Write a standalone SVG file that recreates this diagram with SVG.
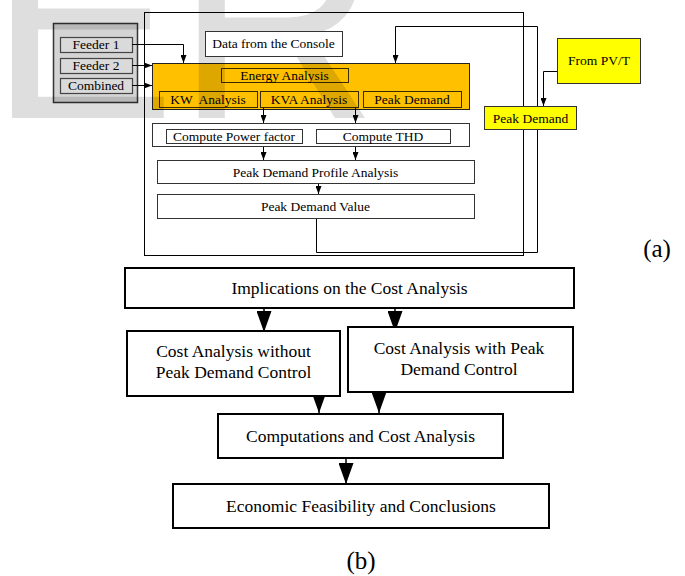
<svg xmlns="http://www.w3.org/2000/svg" width="685" height="576" viewBox="0 0 685 576">
<style>
text{font-family:"Liberation Serif","Times New Roman",serif;fill:#000;text-anchor:middle}
.s{font-size:13.5px}
.b{font-size:17.5px}
.lbl{font-size:25px}
.wb{fill:#fff;stroke:#333;stroke-width:1}
.gb{fill:#dadada;stroke:#444;stroke-width:1.2}
.ob{fill:#ffc000;stroke:#3a2a00;stroke-width:1}
.yb{fill:#ffff00;stroke:#333;stroke-width:1}
.bb{fill:#fff;stroke:#000;stroke-width:2}
.ln{fill:none;stroke:#000;stroke-width:1}
.lb{fill:none;stroke:#000;stroke-width:1.5}
.wm{font-family:"Liberation Sans",Arial,sans-serif;font-size:280px;fill:#000;fill-opacity:0.13;text-anchor:start}
</style>
<defs>
<marker id="sa" markerUnits="userSpaceOnUse" markerWidth="8" markerHeight="6" refX="8" refY="3" orient="auto"><path d="M0,0 L8,3 L0,6 z" fill="#000"/></marker>
<marker id="ba" markerUnits="userSpaceOnUse" markerWidth="21" markerHeight="15" refX="21" refY="7.5" orient="auto"><path d="M0,0 L21,7.5 L0,15 z" fill="#000"/></marker>
</defs>
<rect width="685" height="576" fill="#fff"/>
<g id="outer-box"><rect x="144.5" y="12.5" width="379" height="243" fill="none" stroke="#000" stroke-width="1"/></g>
<g id="feeders">
<rect x="53.5" y="23.5" width="84" height="79" fill="#d4d4d4" stroke="#333" stroke-width="1.5"/>
<g id="feeder1"><rect class="gb" x="60.5" y="37.5" width="72" height="15"/><text class="s" x="96" y="49">Feeder 1</text></g>
<g id="feeder2"><rect class="gb" x="60.5" y="58.5" width="72" height="15"/><text class="s" x="96" y="70">Feeder 2</text></g>
<g id="combined"><rect class="gb" x="60.5" y="78.5" width="72" height="15"/><text class="s" x="96" y="90">Combined</text></g>
</g>
<g id="energy-block">
<rect x="152.5" y="63.5" width="317" height="46" fill="#ffc000" stroke="#222" stroke-width="1"/>
<g id="energy-analysis"><rect class="ob" x="221.5" y="68.5" width="127" height="14"/><text class="s" x="284.5" y="80">Energy Analysis</text></g>
<g id="kw-analysis"><rect class="ob" x="159.5" y="91.5" width="98" height="16"/><text class="s" x="208" y="104" xml:space="preserve">KW  Analysis</text></g>
<g id="kva-analysis"><rect class="ob" x="260.5" y="91.5" width="98" height="16"/><text class="s" x="309" y="104">KVA Analysis</text></g>
<g id="peak-demand-a"><rect class="ob" x="363.5" y="91.5" width="98" height="16"/><text class="s" x="412" y="104">Peak Demand</text></g>
</g>
<g id="watermark"><text class="wm" x="-11" y="118">ER</text></g>
<g id="data-console"><rect class="wb" x="205.5" y="31.5" width="137" height="25"/><text class="s" x="273.5" y="48">Data from the Console</text></g>
<g id="compute-row">
<rect class="wb" x="152.5" y="123.5" width="317" height="23"/>
<g id="compute-pf"><rect class="wb" x="166.5" y="129.5" width="136" height="14"/><text class="s" x="234" y="141">Compute Power factor</text></g>
<g id="compute-thd"><rect class="wb" x="316.5" y="129.5" width="134" height="14"/><text class="s" x="383" y="141">Compute THD</text></g>
</g>
<g id="profile"><rect class="wb" x="157.5" y="160.5" width="317" height="23"/><text class="s" x="315.5" y="176.5">Peak Demand Profile Analysis</text></g>
<g id="value"><rect class="wb" x="157.5" y="194.5" width="317" height="24"/><text class="s" x="315.5" y="211">Peak Demand Value</text></g>
<g id="connectors">
<path class="ln" d="M132,44.5 H183.5 V63" marker-end="url(#sa)"/>
<path class="ln" d="M132,65.5 H152" marker-end="url(#sa)"/>
<path class="ln" d="M132,85.5 H152" marker-end="url(#sa)"/>
<path class="ln" d="M263.5,108 V123" marker-end="url(#sa)"/>
<path class="ln" d="M355.5,108 V123" marker-end="url(#sa)"/>
<path class="ln" d="M263.5,147 V160" marker-end="url(#sa)"/>
<path class="ln" d="M355.5,147 V160" marker-end="url(#sa)"/>
<path class="ln" d="M318.5,184 V194" marker-end="url(#sa)"/>
<path class="ln" d="M316.5,219 V252.5 H537.5 V26.5 H395.5 V63" marker-end="url(#sa)"/>
<path class="ln" d="M557,71.5 H543.5 V106" marker-end="url(#sa)"/>
<path class="lb" d="M264,309 V332" marker-end="url(#ba)"/>
<path class="lb" d="M395,309 V332" marker-end="url(#ba)"/>
<path class="lb" d="M319,397 V413" marker-end="url(#ba)"/>
<path class="lb" d="M379,393 V413" marker-end="url(#ba)"/>
<path class="lb" d="M346,459 V484" marker-end="url(#ba)"/>
</g>
<g id="from-pvt"><rect class="yb" x="557.5" y="38.5" width="83" height="45"/><text class="s" x="599" y="65">From PV/T</text></g>
<g id="peak-demand-b"><rect class="yb" x="484.5" y="106.5" width="92" height="23"/><text class="s" x="530.5" y="122.5">Peak Demand</text></g>
<g id="label-a"><text class="lbl" x="657" y="257">(a)</text></g>
<g id="implications"><rect class="bb" x="125" y="268" width="449" height="40"/><text class="b" x="349.5" y="294">Implications on the Cost Analysis</text></g>
<g id="without"><rect class="bb" x="127" y="331" width="213" height="65"/><text class="b" x="233.5" y="357">Cost Analysis without</text><text class="b" x="233.5" y="378">Peak Demand Control</text></g>
<g id="with"><rect class="bb" x="348" y="327" width="225" height="65"/><text class="b" x="459" y="354">Cost Analysis with Peak</text><text class="b" x="459" y="375">Demand Control</text></g>
<g id="computations"><rect class="bb" x="218" y="414" width="285" height="44"/><text class="b" x="360.5" y="442">Computations and Cost Analysis</text></g>
<g id="economic"><rect class="bb" x="173" y="484" width="376" height="44"/><text class="b" x="361" y="512">Economic Feasibility and Conclusions</text></g>
<g id="label-b"><text class="lbl" x="361" y="569">(b)</text></g>
</svg>
